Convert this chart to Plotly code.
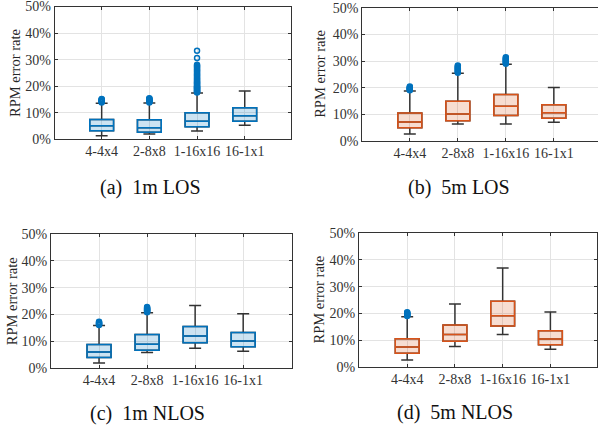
import plotly.graph_objects as go

categories = ["4-4x4", "2-8x8", "1-16x16", "16-1x1"]

# Panel (a) 1m LOS
a_q1 = [3.2, 2.7, 4.7, 6.75]
a_med = [5.1, 4.35, 6.75, 8.85]
a_q3 = [7.5, 7.35, 10.0, 11.85]
a_lo = [1.35, 2.0, 3.1, 5.25]
a_hi = [13.6, 13.7, 17.4, 18.2]
a_out = {
    "4-4x4": [13.9, 14.1, 14.2, 14.4, 14.5, 14.7, 14.8, 15.0, 15.2],
    "2-8x8": [13.9, 14.1, 14.3, 14.5, 14.7, 14.9, 15.1, 15.3, 15.5],
    "1-16x16": [17.6, 17.8, 18.0, 18.2, 18.4, 18.6, 18.8, 19.0, 19.2, 19.4, 19.6,
                19.8, 20.0, 20.3, 20.6, 20.9, 21.2, 21.5, 21.8, 22.1, 22.5, 22.9,
                23.3, 23.7, 24.1, 24.5, 24.9, 25.3, 25.7, 26.1, 26.5, 26.9, 27.3,
                27.7, 28.1, 30.6, 33.3],
}

# Panel (b) 5m LOS
b_q1 = [5.0, 7.6, 9.6, 8.5]
b_med = [7.1, 10.1, 13.0, 10.6]
b_q3 = [10.5, 14.9, 17.4, 13.6]
b_lo = [2.6, 6.4, 6.4, 7.0]
b_hi = [18.75, 25.4, 28.75, 20.1]
b_out = {
    "4-4x4": [19.0, 19.2, 19.4, 19.6, 19.8, 20.0, 20.2, 20.4],
    "2-8x8": [25.6, 25.9, 26.2, 26.5, 26.8, 27.1, 27.4, 27.7, 28.0, 28.3],
    "1-16x16": [29.0, 29.3, 29.6, 29.9, 30.2, 30.5, 30.8, 31.1, 31.4],
}

# Panel (c) 1m NLOS
c_q1 = [4.0, 6.7, 9.5, 8.0]
c_med = [6.1, 9.0, 12.0, 10.2]
c_q3 = [8.85, 12.6, 15.6, 13.3]
c_lo = [2.0, 5.85, 7.5, 6.35]
c_hi = [15.9, 20.7, 23.4, 20.3]
c_out = {
    "4-4x4": [16.1, 16.3, 16.5, 16.7, 16.9, 17.1, 17.3],
    "2-8x8": [20.9, 21.1, 21.3, 21.5, 21.7, 21.9, 22.1, 22.3, 22.5, 22.8],
}

# Panel (d) 5m NLOS
d_q1 = [5.0, 9.5, 15.25, 8.25]
d_med = [7.4, 12.1, 19.1, 10.4]
d_q3 = [10.5, 15.6, 24.5, 13.5]
d_lo = [2.5, 7.6, 12.1, 6.5]
d_hi = [18.75, 23.5, 37.0, 20.5]
d_out = {
    "4-4x4": [19.0, 19.2, 19.4, 19.6, 19.8, 20.0, 20.2, 20.4],
}

captions = ["(a)\u00a0\u00a01m LOS", "(b)\u00a0\u00a05m LOS",
            "(c)\u00a0\u00a01m NLOS", "(d)\u00a0\u00a05m NLOS"]
y_ticks = [0, 10, 20, 30, 40, 50]
y_ticktext = ["0%", "10%", "20%", "30%", "40%", "50%"]
y_title = "RPM error rate"

BLUE = "#0072BD"
BLUE_FILL = "rgba(0,114,189,0.2)"
ORANGE = "#D95319"
ORANGE_FILL = "rgba(217,83,25,0.2)"
DARK = "#333333"
FONT = "Liberation Serif, Times New Roman, serif"

W, H = 598, 427

panels = [
    dict(q1=a_q1, med=a_med, q3=a_q3, lo=a_lo, hi=a_hi, out=a_out, col=BLUE, fill=BLUE_FILL,
         px=(54.7, 290.7), py=(6.5, 139.3), xr=[-0.985, 3.964], cap=(150, 187), yt=15),
    dict(q1=b_q1, med=b_med, q3=b_q3, lo=b_lo, hi=b_hi, out=b_out, col=ORANGE, fill=ORANGE_FILL,
         px=(362.3, 598.0), py=(7.7, 141.0), xr=[-0.99, 3.92], cap=(459, 187), yt=320.5),
    dict(q1=c_q1, med=c_med, q3=c_q3, lo=c_lo, hi=c_hi, out=c_out, col=BLUE, fill=BLUE_FILL,
         px=(51.0, 291.7), py=(234.0, 368.3), xr=[-1.0, 4.01], cap=(147.5, 413), yt=12),
    dict(q1=d_q1, med=d_med, q3=d_q3, lo=d_lo, hi=d_hi, out=d_out, col=ORANGE, fill=ORANGE_FILL,
         px=(359.0, 596.7), py=(233.3, 366.7), xr=[-1.01, 3.97], cap=(455, 412), yt=318.5),
]

fig = go.Figure()
layout = dict(
    width=W, height=H, margin=dict(l=0, r=0, t=0, b=0, pad=0, autoexpand=False),
    paper_bgcolor="white", plot_bgcolor="white", showlegend=False,
    boxmode="overlay", font=dict(family=FONT, size=14, color="#262626"),
    annotations=[],
)

for i, p in enumerate(panels):
    n = "" if i == 0 else str(i + 1)
    xa, ya = "x" + n, "y" + n
    # whiskers (dark)
    fig.add_trace(go.Box(
        x=categories, q1=p["q1"], median=p["med"], q3=p["q3"],
        lowerfence=p["lo"], upperfence=p["hi"], width=0.5, whiskerwidth=0.5,
        line=dict(color=DARK, width=1.5), fillcolor="rgba(0,0,0,0)",
        boxpoints=False, xaxis=xa, yaxis=ya, hoverinfo="skip"))
    # colored box
    fig.add_trace(go.Box(
        x=categories, q1=p["q1"], median=p["med"], q3=p["q3"],
        lowerfence=p["q1"], upperfence=p["q3"], width=0.5, whiskerwidth=0,
        line=dict(color=p["col"], width=1.5), fillcolor=p["fill"],
        boxpoints=False, xaxis=xa, yaxis=ya))
    # outliers
    for cat, vals in p["out"].items():
        fig.add_trace(go.Scatter(
            x=[cat] * len(vals), y=vals, mode="markers",
            marker=dict(symbol="circle-open", size=5, color=BLUE, line=dict(width=1.5, color=BLUE)),
            xaxis=xa, yaxis=ya))
    x0, x1 = p["px"]
    y0, y1 = p["py"]
    mirror_y = "ticks" if i != 1 else False
    layout["xaxis" + n] = dict(
        domain=[x0 / W, min(x1 / W, 1)], anchor=ya, type="category", automargin=False,
        categoryorder="array", categoryarray=categories, range=p["xr"],
        showline=True, linecolor=DARK, linewidth=1, mirror="ticks",
        ticks="inside", ticklen=3, tickcolor=DARK, ticklabelstandoff=-1,
        ticklabeloverflow="allow",
        showgrid=True, gridcolor="#e3e3e3", gridwidth=1,
        tickfont=dict(family=FONT, size=14, color="#333333"), zeroline=False)
    layout["yaxis" + n] = dict(
        domain=[1 - y1 / H, 1 - y0 / H], anchor=xa, range=[0, 50], automargin=False,
        tickmode="array", tickvals=y_ticks, ticktext=y_ticktext,
        ticklabeloverflow="allow",
        showline=True, linecolor=DARK, linewidth=1, mirror=mirror_y,
        ticks="inside", ticklen=3, tickcolor=DARK,
        showgrid=True, gridcolor="#e3e3e3", gridwidth=1,
        tickfont=dict(family=FONT, size=14, color="#333333"), zeroline=False)
    layout["annotations"].append(dict(
        text=y_title, textangle=-90, x=p["yt"] / W, y=1 - (y0 + y1) / 2 / H,
        xref="paper", yref="paper", showarrow=False, xanchor="center", yanchor="middle",
        font=dict(family=FONT, size=14.5, color="#262626")))
    layout["annotations"].append(dict(
        text=captions[i], x=p["cap"][0] / W, y=1 - p["cap"][1] / H,
        xref="paper", yref="paper", showarrow=False, xanchor="center", yanchor="middle",
        font=dict(family=FONT, size=20, color="#111111")))

fig.update_layout(**layout)
fig.write_html(
    "out.html",
    config={"displayModeBar": False},
    post_script="document.body.style.margin='0';document.body.style.overflow='hidden';",
)
